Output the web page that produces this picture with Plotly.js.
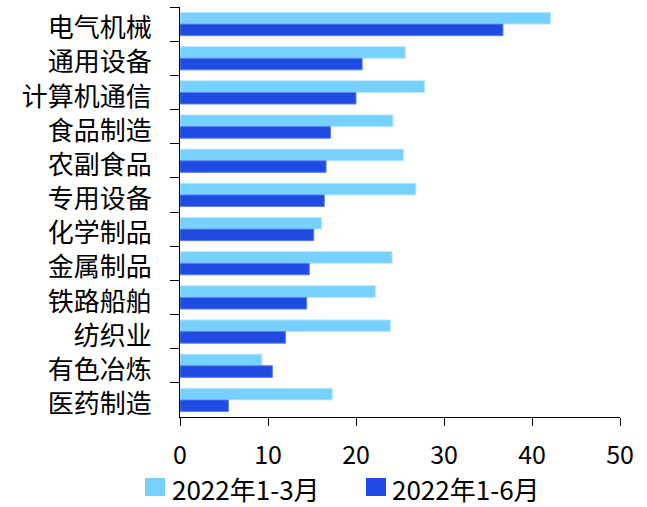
<!DOCTYPE html>
<html><head><meta charset="utf-8">
<script src="https://cdn.plot.ly/plotly-3.0.1.min.js"></script>
<style>html,body{margin:0;padding:0;background:#fff}</style>
</head><body><div id="chart" style="width:647px;height:507px"></div>
<script>
const categories = ["电气机械","通用设备","计算机通信","食品制造","农副食品","专用设备","化学制品","金属制品","铁路船舶","纺织业","有色冶炼","医药制造"];
const q1Values = [42.1,25.6,27.8,24.2,25.4,26.8,16.1,24.1,22.2,23.9,9.3,17.3];
const h1Values = [36.7,20.7,20.0,17.1,16.6,16.4,15.2,14.7,14.4,12.0,10.5,5.5];
const seriesNames = ["2022年1-3月","2022年1-6月"];
const seriesColors = ["#76D1FF","#1E4BE1"];
const xTicks = [0,10,20,30,40,50];
const font = "Noto Sans CJK SC, Noto Sans, sans-serif";
const data = [
  {type:"bar",orientation:"h",name:seriesNames[0],y:categories,x:q1Values,
   marker:{color:seriesColors[0],line:{color:"#B8E6FF",width:1}}},
  {type:"bar",orientation:"h",name:seriesNames[1],y:categories,x:h1Values,
   marker:{color:seriesColors[1],line:{color:"#5F82EE",width:1}}}
];
// custom legend (paper coords): squares + texts
const plotW = 647-180-27, plotH = 507-7-90, plotBottom = 417;
function px2paperX(px){return (px-180)/plotW;}
function py2paperY(py){return -(py-plotBottom)/plotH;}
const legSquares = [145, 366];
const legTexts = [171, 391];
const shapes = [], annotations = [];
seriesNames.forEach((n,i)=>{
  shapes.push({type:"rect",xref:"paper",yref:"paper",
    x0:px2paperX(legSquares[i]),x1:px2paperX(legSquares[i]+20),
    y0:py2paperY(478),y1:py2paperY(496),
    fillcolor:seriesColors[i],line:{width:0}});
  annotations.push({xref:"paper",yref:"paper",x:px2paperX(legTexts[i]),
    y:py2paperY(488),xanchor:"left",yanchor:"middle",showarrow:false,
    text:n,font:{size:26,color:"#000"},borderpad:0});
});
const layout = {
  width:647,height:507,
  margin:{l:180,r:27,t:7,b:90},
  paper_bgcolor:"#fff",plot_bgcolor:"#fff",
  barmode:"group",bargap:0.32,bargroupgap:0,
  font:{family:font,size:26,color:"#000"},
  showlegend:false,
  shapes:shapes,annotations:annotations,
  xaxis:{range:[0,50],tickvals:xTicks,showgrid:false,zeroline:false,
    showline:true,linecolor:"#000",linewidth:1,ticks:"outside",ticklen:8,
    tickcolor:"#000",tickfont:{size:25},ticklabelstandoff:8,automargin:false},
  yaxis:{autorange:"reversed",type:"category",showgrid:false,zeroline:false,
    showline:true,linecolor:"#000",linewidth:1,ticks:"outside",ticklen:9,
    tickcolor:"#000",tickson:"boundaries",tickfont:{size:26},ticklabelstandoff:22,
    ticklabelshift:-4,automargin:false}
};
Plotly.newPlot("chart",data,layout,{displayModeBar:false,staticPlot:true});
</script></body></html>
